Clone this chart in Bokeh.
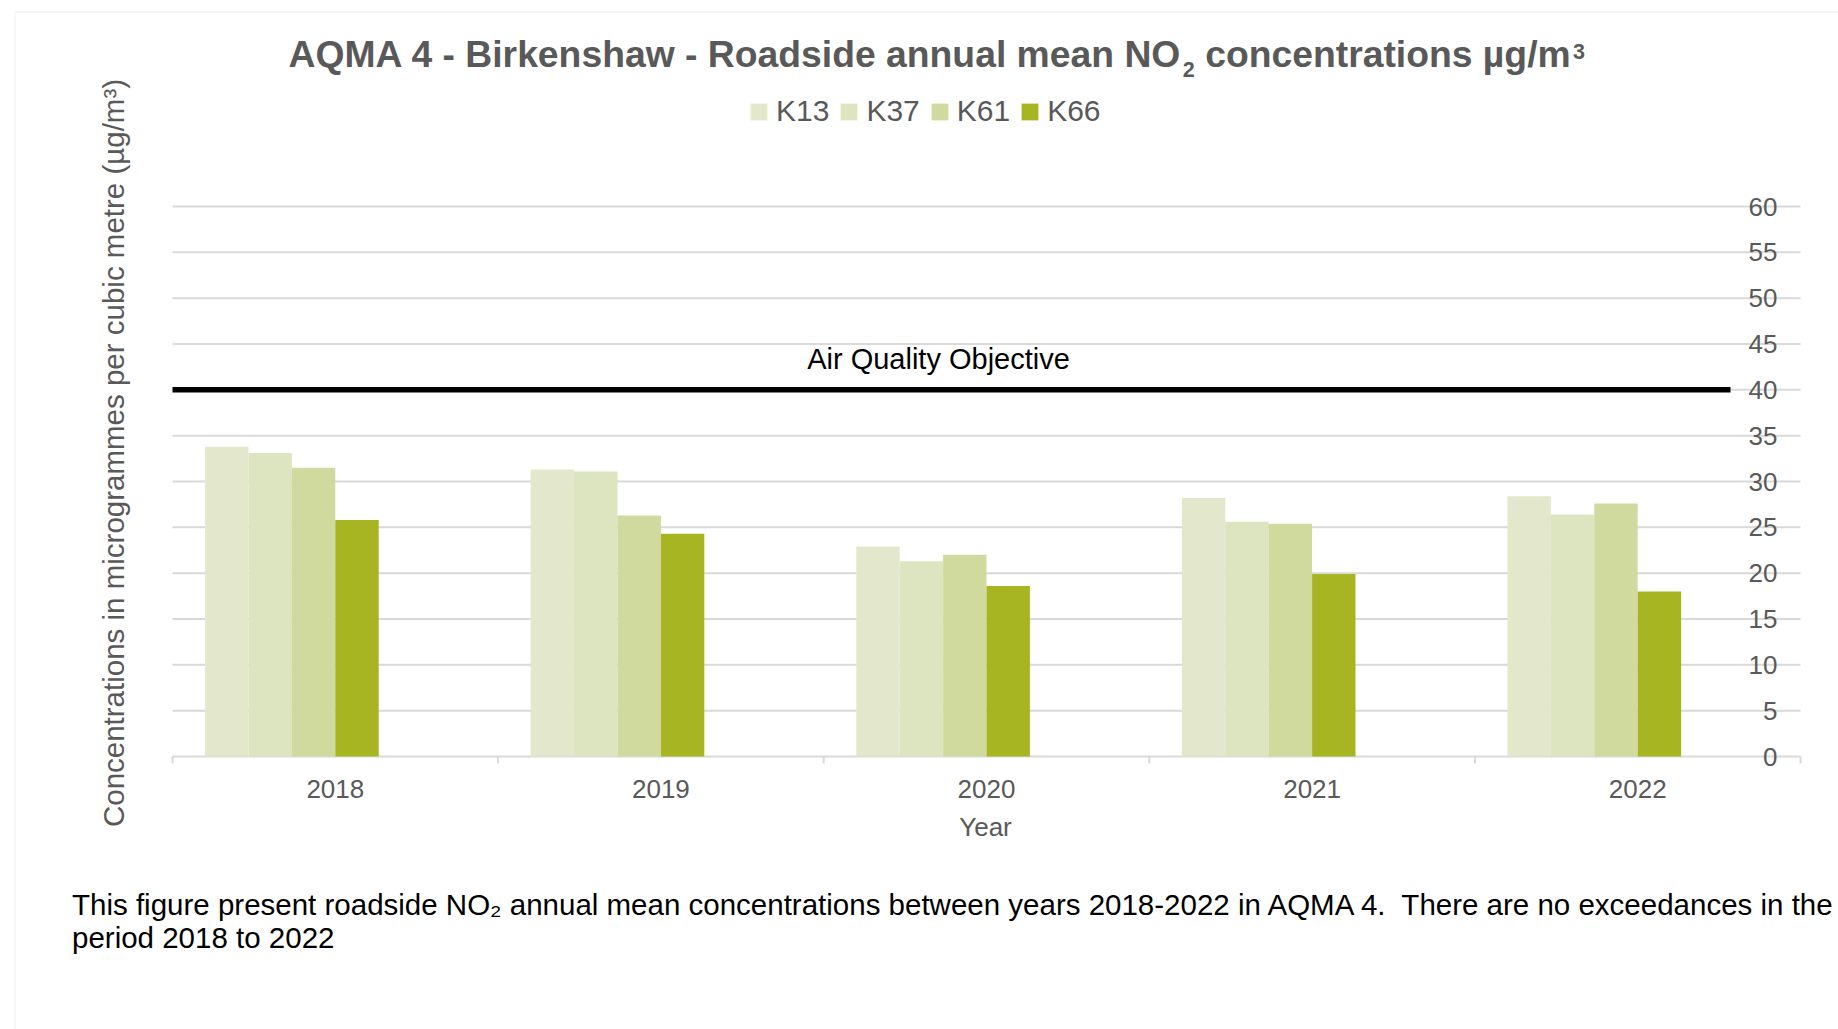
from bokeh.plotting import figure
from bokeh.models import ColumnDataSource, Range1d, Label, LabelSet, BoxAnnotation
from bokeh.core.properties import value
from bokeh.transform import dodge
from bokeh.embed import file_html
from bokeh.resources import INLINE

# ---- data -------------------------------------------------------------
years = ["2018", "2019", "2020", "2021", "2022"]
sites = ["K13", "K37", "K61", "K66"]
k13 = [33.8, 31.3, 22.9, 28.2, 28.4]
k37 = [33.1, 31.1, 21.3, 25.6, 26.4]
k61 = [31.5, 26.3, 22.0, 25.4, 27.6]
k66 = [25.8, 24.3, 18.6, 19.9, 18.0]
objective = 40
y_ticks = [0, 5, 10, 15, 20, 25, 30, 35, 40, 45, 50, 55, 60]
y_max = 60

site_colors = ["#E3E8CC", "#DDE4C0", "#D0DA9E", "#A8B523"]

# title split so that the chemical subscript and the unit superscript can be set smaller
title_main = "AQMA 4 - Birkenshaw - Roadside annual mean NO"
title_sub = "2"
title_rest = "\u00a0concentrations µg/m"      # non-breaking space survives SVG whitespace collapsing
title_sup = "3"

# ---- layout constants (canvas pixels) ---------------------------------
W, H = 1838, 1029
FL, FR, FT, FB = 172, 1800, 206, 756          # plot-area edges
CAT_W = (FR - FL) / len(years)                 # pixels per category
PX_PER_UNIT = (FB - FT) / y_max                # pixels per µg/m³
GREY = "#595959"
LINE_GREY = "#D9D9D9"
FONT = "Liberation Sans"
LABEL_SHIFT = 0.37                             # single Label baseline correction (em)

# advance widths of Liberation Sans Bold (per 1000 em) for the title characters
BOLD_W = {" ": 278, "\u00a0": 278, "A": 722, "B": 722, "M": 833, "N": 722, "O": 778,
          "Q": 778, "R": 722, "a": 556, "c": 556, "d": 611, "e": 556, "g": 611,
          "h": 611, "i": 278, "k": 556, "l": 278, "m": 889, "n": 611, "o": 611,
          "r": 389, "s": 556, "t": 333, "u": 611, "w": 778, "-": 333, "/": 278,
          "4": 556, "2": 556, "3": 556, "µ": 611}


def bold_width(s, size):
    return sum(BOLD_W[ch] for ch in s) * size / 1000


def cx(px):
    """canvas x pixel -> category coordinate"""
    return (px - FL) / CAT_W


def dy(py):
    """canvas y pixel -> concentration coordinate"""
    return (FB - py) / PX_PER_UNIT


def label(px, py, text, size, color=GREY, style="normal", align="left"):
    """Text annotation whose baseline sits at canvas pixel (px, py)."""
    return Label(x=cx(px), y=dy(py - LABEL_SHIFT * size), text=text,
                 text_align=align, text_baseline="alphabetic",
                 text_font=FONT, text_font_style=style,
                 text_font_size=f"{size}px", text_color=color)


# The drawing frame covers the whole canvas; the plot area is 172..1800 x 206..756.
p = figure(width=W, height=H,
           x_range=Range1d(cx(0), cx(W)), y_range=Range1d(dy(H), dy(0)),
           x_axis_location=None, y_axis_location=None,
           toolbar_location=None, output_backend="svg",
           min_border=0, outline_line_color=None,
           background_fill_color="white", border_fill_color="white")
p.xgrid.visible = False
p.ygrid.visible = False

n_cat = len(years)
centers = [i + 0.5 for i in range(n_cat)]
boundaries = list(range(n_cat + 1))

# ---- horizontal gridlines over the plot area ----------------------------
p.segment(x0=0, x1=n_cat, y0=y_ticks, y1=y_ticks,
          line_color=LINE_GREY, line_width=2)

# ---- category axis: tick marks between categories ---------------------
p.segment(x0=boundaries, x1=boundaries, y0=0, y1=dy(FB + 7),
          line_color=LINE_GREY, line_width=2)

# ---- clustered bars (6 slots per category, 150% gap) -----------------
src = ColumnDataSource(dict(year=years, pos=centers, K13=k13, K37=k37, K61=k61, K66=k66))
slot = 1 / 7.5
for i, (site, col) in enumerate(zip(sites, site_colors)):
    p.vbar(x=dodge("pos", (i - 2.5) * slot), top=site, bottom=0,
           width=slot, source=src, fill_color=col, line_color=None,
           legend_label=site)

# ---- air quality objective line --------------------------------------
p.line(x=[0, cx(1730)], y=[objective, objective],
       line_color="black", line_width=5.5)
p.add_layout(label(938, 369, "Air Quality Objective", 29, color="black", align="center"))

# ---- category labels and x title --------------------------------------
p.add_layout(LabelSet(x="pos", y=dy(797), text="year", source=src,
                      text_align="center", text_baseline="alphabetic",
                      text_font=value(FONT), text_font_size=value("26px"),
                      text_color=GREY))
p.add_layout(label(985, 836, "Year", 26, align="center"))

# ---- y tick labels, right-aligned inside the plot area ---------------
ysrc = ColumnDataSource(dict(y=y_ticks, text=[str(t) for t in y_ticks]))
p.add_layout(LabelSet(x=cx(1777), y="y", text="text", source=ysrc,
                      text_align="right", text_baseline="middle",
                      text_font=value(FONT), text_font_size=value("26px"),
                      text_color=GREY))

# ---- y axis title ----------------------------------------------------
p.add_layout(Label(x=cx(123.5 - LABEL_SHIFT * 29.5), y=dy(452.5),
                   text="Concentrations in microgrammes per cubic metre (µg/m³)",
                   angle=1.5707963, text_align="center",
                   text_baseline="alphabetic", text_font=FONT,
                   text_font_size="29.5px", text_color=GREY))

# ---- title (main text + subscript + rest + superscript) ---------------
T_SIZE, S_SIZE = 37.3, 21.5
T_BASE = 67.5
tx = 288
p.add_layout(label(tx, T_BASE, title_main, T_SIZE, style="bold"))
tx += bold_width(title_main, T_SIZE)
p.add_layout(label(tx + 1, T_BASE + 9.5, title_sub, S_SIZE, style="bold"))
tx += bold_width(title_sub, S_SIZE) + 1
p.add_layout(label(tx, T_BASE, title_rest, T_SIZE, style="bold"))
tx += bold_width(title_rest, T_SIZE)
p.add_layout(label(tx + 1, T_BASE - 9, title_sup, S_SIZE, style="bold"))

# ---- legend ----------------------------------------------------------
leg = p.legend[0]
leg.orientation = "horizontal"
leg.location = (748, 901)
leg.glyph_width = 21
leg.glyph_height = 21
leg.label_standoff = 7
leg.spacing = 9
leg.padding = 0
leg.margin = 0
leg.border_line_color = None
leg.background_fill_alpha = 0
leg.label_text_font = FONT
leg.label_text_font_size = "30px"
leg.label_text_color = GREY

# ---- caption ---------------------------------------------------------
caption = ["This figure present roadside NO₂ annual mean concentrations between years 2018-2022 in AQMA 4.\u00a0 There are no exceedances in the",
           "period 2018 to 2022"]
for k, line in enumerate(caption):
    p.add_layout(label(71.5, 915 + 33 * k, line, 29.5, color="black"))

# ---- outer frame lines (top and left) --------------------------------
p.add_layout(BoxAnnotation(left=cx(14.5), right=cx(W + 20), top=dy(11.5), bottom=dy(H + 20),
                           fill_alpha=0, line_color=LINE_GREY, line_width=1.5))

open("out.html", "w").write(file_html(p, INLINE))
